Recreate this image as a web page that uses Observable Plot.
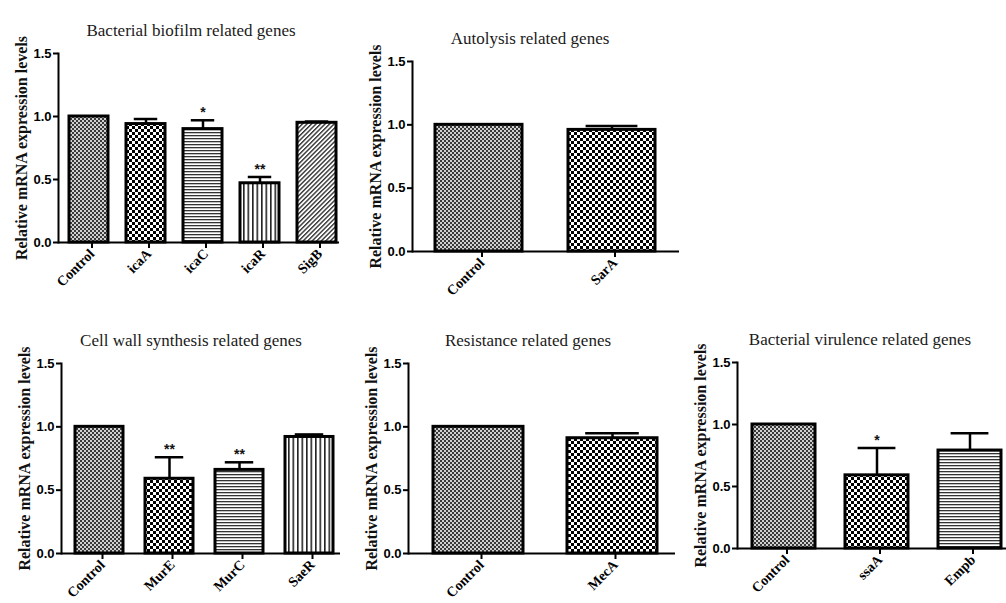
<!DOCTYPE html>
<html><head><meta charset="utf-8">
<script src="https://cdn.jsdelivr.net/npm/d3@7"></script>
<script src="https://cdn.jsdelivr.net/npm/@observablehq/plot@0.6"></script>
<style>
body{margin:0;background:#fff;width:1006px;height:603px;position:relative;overflow:hidden}
.panel{position:absolute}
</style></head><body>
<svg width="0" height="0" style="position:absolute">
<defs>
 <pattern id="p-dense" patternUnits="userSpaceOnUse" width="4" height="4">
   <rect width="4" height="4" fill="#d0d0d0"/><rect width="2" height="2" fill="#3a3a3a"/><rect x="2" y="2" width="2" height="2" fill="#3a3a3a"/>
 </pattern>
 <pattern id="p-checker" patternUnits="userSpaceOnUse" width="6" height="6">
   <rect width="6" height="6" fill="#fff"/><rect width="3" height="3" fill="#000"/><rect x="3" y="3" width="3" height="3" fill="#000"/>
 </pattern>
 <pattern id="p-hlines" patternUnits="userSpaceOnUse" width="6" height="3">
   <rect width="6" height="3" fill="#fff"/><rect width="6" height="1.3" fill="#333"/>
 </pattern>
 <pattern id="p-vlines" patternUnits="userSpaceOnUse" width="4.5" height="6">
   <rect width="4.5" height="6" fill="#fff"/><rect width="1.6" height="6" fill="#222"/>
 </pattern>
 <pattern id="p-diag" patternUnits="userSpaceOnUse" width="3.2" height="6" patternTransform="rotate(45)">
   <rect width="3.2" height="6" fill="#fff"/><rect width="1.4" height="6" fill="#333"/>
 </pattern>
</defs></svg>
<script>
// ---- data ----
const yTicks = [0, 0.5, 1.0, 1.5];
const yLabel = "Relative mRNA expression levels";

const biofilmTitle = "Bacterial biofilm related genes";
const biofilmGenes = ["Control", "icaA", "icaC", "icaR", "SigB"];
const biofilmMean  = [1.00, 0.94, 0.90, 0.47, 0.95];
const biofilmErr   = [0.00, 0.04, 0.07, 0.05, 0.01];
const biofilmSig   = ["", "", "*", "**", ""];

const autolysisTitle = "Autolysis related genes";
const autolysisGenes = ["Control", "SarA"];
const autolysisMean  = [1.00, 0.96];
const autolysisErr   = [0.00, 0.03];
const autolysisSig   = ["", ""];

const cellWallTitle = "Cell wall synthesis related genes";
const cellWallGenes = ["Control", "MurE", "MurC", "SaeR"];
const cellWallMean  = [1.00, 0.59, 0.66, 0.92];
const cellWallErr   = [0.00, 0.17, 0.06, 0.02];
const cellWallSig   = ["", "**", "**", ""];

const resistanceTitle = "Resistance related genes";
const resistanceGenes = ["Control", "MecA"];
const resistanceMean  = [1.00, 0.91];
const resistanceErr   = [0.00, 0.04];
const resistanceSig   = ["", ""];

const virulenceTitle = "Bacterial virulence related genes";
const virulenceGenes = ["Control", "ssaA", "Empb"];
const virulenceMean  = [1.00, 0.59, 0.79];
const virulenceErr   = [0.00, 0.22, 0.14];
const virulenceSig   = ["", "*", ""];

// ---- styles ----
const patternOf = {Control:"dense", icaA:"checker", icaC:"hlines", icaR:"vlines", SigB:"diag",
  SarA:"checker", MurE:"checker", MurC:"hlines", SaeR:"vlines", MecA:"checker", ssaA:"checker", Empb:"hlines"};

function panel(cfg) {
  const rows = cfg.genes.map((g, i) => ({gene: g, mean: cfg.mean[i], err: cfg.err[i], top: cfg.mean[i] + cfg.err[i], sig: cfg.sig[i]}));
  const n = cfg.genes.length;
  const step = (cfg.width - cfg.ml - cfg.mr) / (n - cfg.pi + 2 * cfg.po);
  const bw = step * (1 - cfg.pi);
  const cap = bw * 0.2;
  const withErr = rows.filter(d => d.err > 0);
  const chart = Plot.plot({
    width: cfg.width, height: cfg.height,
    marginLeft: cfg.ml, marginRight: cfg.mr, marginTop: cfg.mt, marginBottom: cfg.mb,
    style: {background: "transparent", color: "#000"},
    x: {type: "band", domain: cfg.genes, paddingInner: cfg.pi, paddingOuter: cfg.po, align: cfg.align, label: null},
    y: {domain: [0, 1.5], label: null},
    color: {type: "identity"},
    marks: [
      Plot.barY(rows, {x: "gene", y: "mean", fill: d => `url(#p-${patternOf[d.gene]})`, stroke: "#000", strokeWidth: 3}),
      Plot.ruleX(withErr, {x: "gene", y1: "mean", y2: "top", stroke: "#000", strokeWidth: 2.5}),
      Plot.tickY(withErr, {x: "gene", y: "top", stroke: "#000", strokeWidth: 2.5, inset: cap}),
      Plot.text(rows.filter(d => d.sig), {x: "gene", y: "top", text: "sig", dy: -3, lineAnchor: "bottom", fontSize: 14, fontWeight: "bold", fontFamily: "Liberation Sans", fill: "#111"}),
      Plot.ruleY([0], {stroke: "#000", strokeWidth: 2}),
      Plot.frame({anchor: "left", stroke: "#000", strokeWidth: 2}),
      Plot.axisY({ticks: yTicks, tickFormat: d3.format(".1f"), tickSize: 5, tickPadding: 2, fontSize: 13, fontWeight: "bold", fontFamily: "Liberation Sans", label: null, strokeWidth: 2}),
      Plot.axisX({tickRotate: -45, tickSize: 6, tickPadding: 3, dx: 3, fontSize: 14, fontWeight: "bold", fontFamily: "Liberation Serif", label: null, strokeWidth: 2}),
      Plot.text([cfg.title], {frameAnchor: "top", dy: -30, dx: cfg.titleDx, text: d => d, fontSize: 17, fontFamily: "Liberation Serif", fill: "#1a1a1a"}),
      Plot.text([yLabel], {frameAnchor: "left", dx: -37, rotate: -90, textAnchor: "middle", text: d => d, fontSize: 16, fontWeight: "bold", fontFamily: "Liberation Serif", fill: "#111"})
    ]
  });
  const div = document.createElement("div");
  div.className = "panel";
  div.style.left = cfg.left + "px";
  div.style.top = cfg.top + "px";
  div.appendChild(chart);
  document.body.appendChild(div);
}

panel({title: biofilmTitle, genes: biofilmGenes, mean: biofilmMean, err: biofilmErr, sig: biofilmSig,
  left: 0, top: 0, width: 340, height: 300, ml: 58, mr: 1, mt: 53, mb: 58, pi: 0.32, po: 0.118, align: 0.78, titleDx: -8});
panel({title: autolysisTitle, genes: autolysisGenes, mean: autolysisMean, err: autolysisErr, sig: autolysisSig,
  left: 340, top: 0, width: 340, height: 300, ml: 72, mr: 1, mt: 61, mb: 49, pi: 0.343, po: 0.168, align: 0.5, titleDx: -16});
panel({title: cellWallTitle, genes: cellWallGenes, mean: cellWallMean, err: cellWallErr, sig: cellWallSig,
  left: 0, top: 300, width: 340, height: 303, ml: 61, mr: 0, mt: 63, mb: 50, pi: 0.31, po: 0.123, align: 0.657, titleDx: -10});
panel({title: resistanceTitle, genes: resistanceGenes, mean: resistanceMean, err: resistanceErr, sig: resistanceSig,
  left: 340, top: 300, width: 340, height: 303, ml: 68, mr: 5, mt: 63, mb: 50, pi: 0.326, po: 0.152, align: 0.585, titleDx: -14});
panel({title: virulenceTitle, genes: virulenceGenes, mean: virulenceMean, err: virulenceErr, sig: virulenceSig,
  left: 680, top: 300, width: 326, height: 303, ml: 57, mr: 0, mt: 62, mb: 55, pi: 0.323, po: 0.1075, align: 0.75, titleDx: -12});
</script>
</body></html>
